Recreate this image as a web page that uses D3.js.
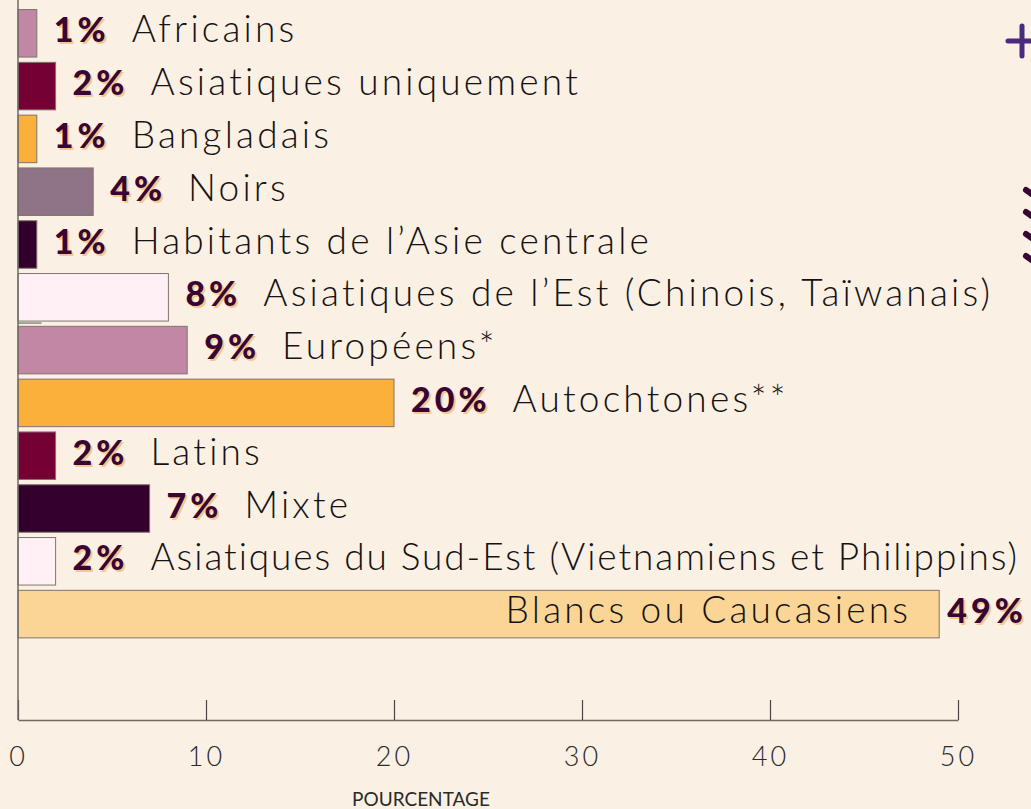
<!DOCTYPE html>
<html>
<head>
<meta charset="utf-8">
<script src="https://cdn.jsdelivr.net/npm/d3@7"></script>
<style>
  html, body { margin: 0; padding: 0; background: #faf0e3; }
  svg { display: block; }
  .name { font-family: Lato, "Open Sans", sans-serif; font-weight: 300; font-size: 37px; fill: #141214; letter-spacing: 3.2px; }
  .pct { font-family: Lato, sans-serif; font-weight: 900; font-size: 34px; letter-spacing: 4px; }
  .tick text { font-family: Lato, sans-serif; font-size: 27px; font-weight: 300; fill: #2a2a2a; letter-spacing: 3px; }
</style>
</head>
<body>
<script>
const width = 1031;
const height = 809;

const categories = [
  'Africains', 'Asiatiques uniquement', 'Bangladais', 'Noirs',
  'Habitants de l\u2019Asie centrale', 'Asiatiques de l\u2019Est (Chinois, Taïwanais)',
  'Européens*', 'Autochtones**', 'Latins', 'Mixte',
  'Asiatiques du Sud-Est (Vietnamiens et Philippins)', 'Blancs ou Caucasiens'
];
const values = [1, 2, 1, 4, 1, 8, 9, 20, 2, 7, 2, 49];
const colors = [
  '#c287a5', '#750034', '#fbb03b', '#8f7387', '#33002e', '#fff0f6',
  '#c287a5', '#fbb03b', '#750034', '#33002e', '#fff0f6', '#fad596'
];
const tickValues = [0, 10, 20, 30, 40, 50];

let rows = [];
categories.forEach((c, i) => {
  rows.push({ name: c, value: values[i], color: colors[i] })
});

let svg = d3.select('body').append('svg')
  .attr('width', width)
  .attr('height', height)

svg.append('rect')
  .attr('width', width)
  .attr('height', height)
  .attr('fill', '#faf0e3')

let x = d3.scaleLinear().domain([0, 50]).range([18, 958])
let y = d3.scaleBand().domain(categories).range([6.4, 640]).paddingInner(0.1).paddingOuter(0.05)

// bars
svg.selectAll('.bar')
  .data(rows)
  .enter().append('rect')
  .attr('class', 'bar')
  .attr('x', x(0))
  .attr('y', d => y(d.name) + 0.5)
  .attr('width', d => x(d.value) - x(0))
  .attr('height', y.bandwidth())
  .attr('fill', d => d.color)
  .attr('stroke', '#7d7570')
  .attr('stroke-width', 1)

// axis
let axis = svg.append('g')
  .attr('transform', 'translate(0,720)')
  .call(d3.axisBottom(x).tickValues(tickValues).tickSizeInner(-20).tickSizeOuter(0).tickPadding(0))

axis.select('.domain').attr('stroke', '#6f6a64').attr('stroke-width', 1.5)
axis.selectAll('.tick line').attr('stroke', '#4a4542').attr('stroke-width', 1.2)
axis.selectAll('.tick text').attr('y', 46).attr('dy', 0)

svg.append('line')
  .attr('x1', x(0)).attr('x2', x(0))
  .attr('y1', 0).attr('y2', 720)
  .attr('stroke', '#6f6a64')
  .attr('stroke-width', 1.5)

svg.append('text')
  .attr('x', 421)
  .attr('y', 806)
  .attr('text-anchor', 'middle')
  .style('font-family', 'Lato, sans-serif')
  .style('font-size', '19px')
  .style('fill', '#2a2a2a')
  .text('POURCENTAGE')

// labels
const maxVal = d3.max(values);
const pctLabel = v => v + '%';

function drawPct(g, px, py, v) {
  g.append('text').attr('class', 'pct')
    .attr('x', px + 2).attr('y', py + 2)
    .attr('fill', '#f4c88c')
    .text(pctLabel(v))
  return g.append('text').attr('class', 'pct')
    .attr('x', px).attr('y', py)
    .attr('fill', '#380534')
    .text(pctLabel(v))
}

rows.forEach(d => {
  let cy = y(d.name) + y.bandwidth() / 2 + 9.5;
  let g = svg.append('g')
  if (d.value === maxVal) {
    g.append('text').attr('class', 'name')
      .attr('x', x(d.value) - 28).attr('y', cy)
      .attr('text-anchor', 'end')
      .text(d.name)
    drawPct(g, x(d.value) + 8, cy, d.value)
  } else {
    let px = x(d.value) + 17;
    let t = drawPct(g, px, cy, d.value)
    let w = t.node().getComputedTextLength();
    let nx = px + w + 22;
    let name = g.append('text').attr('class', 'name')
      .attr('x', nx).attr('y', cy)
      .text(d.name)
    // tighten the spacing of labels that would run off the right edge
    let over = nx + name.node().getComputedTextLength() - (width - 12);
    if (over > 0) {
      name.style('letter-spacing', (3.2 - over / d.name.length) + 'px')
    }
  }
});

// small mark under the 8% bar
svg.append('line')
  .attr('x1', x(0)).attr('x2', x(1.25))
  .attr('y1', y(categories[5]) + y.bandwidth() + 2.5)
  .attr('y2', y(categories[5]) + y.bandwidth() + 2.5)
  .attr('stroke', '#555')
  .attr('stroke-width', 1)

// decorations cut at the right edge
svg.append('path')
  .attr('d', 'M1008,41H1036M1022,26V56')
  .attr('stroke', '#4a2a7e')
  .attr('stroke-width', 5)
  .attr('stroke-linecap', 'round')
  .attr('fill', 'none')

d3.range(4).forEach(i => {
  let cy = 190 + i * 22;
  svg.append('path')
    .attr('d', `M1026,${cy}L1036,${cy + 7}L1046,${cy}`)
    .attr('stroke', '#380534')
    .attr('stroke-width', 6)
    .attr('stroke-linecap', 'round')
    .attr('stroke-linejoin', 'round')
    .attr('fill', 'none')
});
</script>
</body>
</html>
